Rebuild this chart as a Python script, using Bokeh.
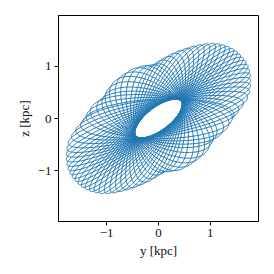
import numpy as np
from bokeh.plotting import figure
from bokeh.models import Range1d, FixedTicker
from bokeh.embed import file_html
from bokeh.resources import INLINE

# ---- values ----
# principal directions of the orbit footprint
major_tilt_deg = [37.0]
envelope_axes = [2.00, 1.05]          # outer extent along / across the tilt [kpc]
# loop apex radius (normalised) vs precession angle (deg), period 180
apex_angle_deg = [0, 30, 58, 74, 86, 98, 108, 116, 125, 140, 160]
apex_radius = [1.00, 0.99, 0.93, 0.88, 1.02, 1.04, 0.96, 1.02, 1.00, 1.06, 1.03]
# loop width (normalised) for loops along / across the tilt -> inner hole
loop_width = [0.21, 0.275]
n_loops = [38]
precession_deg = [-55.0, 125.0]
tick_values = [-1, 0, 1]
tick_labels = ["\u22121", "0", "1"]
x_label = "y [kpc]"
y_label = "z [kpc]"
x_limits = [-1.93, 1.93]
y_limits = [-1.98, 1.98]

# ---- orbit curve from those parameters ----
N = n_loops[0]
s = np.linspace(0.0, 1.0 + 0.03 / N, N * 240)
phi = np.deg2rad(precession_deg[0] + (precession_deg[1] - precession_deg[0]) * s)
a = np.interp(np.rad2deg(phi) % 180.0, apex_angle_deg, apex_radius, period=180.0)
b = loop_width[0] + (loop_width[1] - loop_width[0]) * np.sin(phi) ** 2
t = 2 * np.pi * N * s
xn = a * np.cos(t) * np.cos(phi) - b * np.sin(t) * np.sin(phi)
yn = a * np.cos(t) * np.sin(phi) + b * np.sin(t) * np.cos(phi)
xs, ys = xn * envelope_axes[0], yn * envelope_axes[1]
tilt = np.deg2rad(major_tilt_deg[0])
yy = xs * np.cos(tilt) - ys * np.sin(tilt)
zz = xs * np.sin(tilt) + ys * np.cos(tilt)

p = figure(output_backend="svg", toolbar_location=None,
           frame_width=200, frame_height=206,
           min_border_left=58, min_border_right=14,
           min_border_top=15, min_border_bottom=50,
           x_range=Range1d(*x_limits), y_range=Range1d(*y_limits))
p.background_fill_color = "white"
p.border_fill_color = "white"
p.grid.visible = False
p.outline_line_color = "black"
p.outline_line_alpha = 1.0
p.outline_line_width = 1

p.line(yy, zz, line_color="#1f77b4", line_width=1.0)

p.xaxis[0].axis_label = x_label
p.yaxis[0].axis_label = y_label
for ax in (p.xaxis[0], p.yaxis[0]):
    ax.ticker = FixedTicker(ticks=tick_values)
    ax.major_label_overrides = {v: l for v, l in zip(tick_values, tick_labels)}
    ax.minor_tick_line_color = None
    ax.major_tick_in = 0
    ax.major_tick_out = 4
    ax.axis_line_color = "black"
    ax.major_tick_line_color = "black"
    ax.major_label_text_font = "Liberation Serif"
    ax.major_label_text_font_size = "13px"
    ax.major_label_text_color = "#111111"
    ax.major_label_standoff = 3
    ax.axis_label_text_font = "Liberation Serif"
    ax.axis_label_text_font_size = "13px"
    ax.axis_label_text_font_style = "normal"
    ax.axis_label_text_color = "#111111"
    ax.axis_label_standoff = 3
p.yaxis[0].major_label_orientation = "horizontal"

open("out.html", "w").write(file_html(p, INLINE))
